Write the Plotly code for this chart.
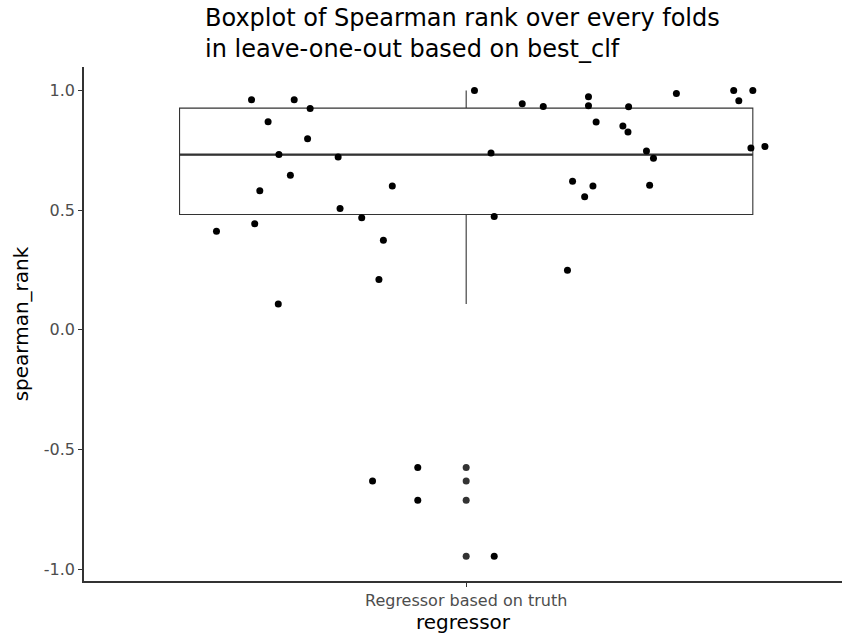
import plotly.graph_objects as go

# Spearman rank per leave-one-out fold
spearman_rank = [
    0.961, 0.961, 0.925, 0.869, 0.798, 0.732, 0.722, 0.646, 0.601, 0.581,
    0.507, 0.468, 0.443, 0.412, 0.374, 0.210, 0.108, 1.000, 0.944, 0.933,
    0.974, 0.936, 0.932, 0.987, 1.000, 1.000, 0.957, 0.868, 0.851, 0.826,
    0.739, 0.747, 0.717, 0.760, 0.766, 0.621, 0.601, 0.556, 0.604, 0.473,
    0.249, -0.632, -0.576, -0.713, -0.947,
]
# horizontal jitter of each fold's point (in category widths)
jitter = [
    -0.337, -0.270, -0.245, -0.311, -0.249, -0.294, -0.201, -0.276, -0.116, -0.324,
    -0.198, -0.164, -0.332, -0.392, -0.130, -0.137, -0.295, 0.013, 0.088, 0.121,
    0.192, 0.192, 0.255, 0.330, 0.420, 0.450, 0.428, 0.204, 0.246, 0.254,
    0.039, 0.283, 0.294, 0.447, 0.469, 0.167, 0.199, 0.186, 0.288, 0.044,
    0.159, -0.147, -0.076, -0.076, 0.044,
]

# box statistics
category = "Regressor based on truth"
q1 = 0.4815
median = 0.732
q3 = 0.926
lower_whisker = 0.108
upper_whisker = 1.000
outliers = [-0.576, -0.632, -0.713, -0.947]

title_lines = [
    "Boxplot of Spearman rank over every folds",
    "in leave-one-out based on best_clf",
]

box_width = 0.9
dark = "#333333"

fig = go.Figure()

fig.add_trace(go.Box(
    x=[0], q1=[q1], median=[median], q3=[q3],
    lowerfence=[lower_whisker], upperfence=[upper_whisker],
    width=box_width, whiskerwidth=0, boxpoints=False,
    fillcolor="white", line=dict(color=dark, width=1.1),
    hoverinfo="skip", showlegend=False,
))

# thicker median bar
fig.add_trace(go.Scatter(
    x=[-box_width / 2, box_width / 2], y=[median, median],
    mode="lines", line=dict(color=dark, width=2.2),
    hoverinfo="skip", showlegend=False,
))

# outliers at the category centre
fig.add_trace(go.Scatter(
    x=[0] * len(outliers), y=outliers, mode="markers",
    marker=dict(color=dark, size=7, line=dict(width=0)),
    showlegend=False,
))

# jittered fold points
fig.add_trace(go.Scatter(
    x=jitter, y=spearman_rank, mode="markers",
    marker=dict(color="black", size=7, line=dict(width=0)),
    showlegend=False,
))

# two-line title, lines left-aligned
fig.add_annotation(
    text="<br>".join(title_lines), xref="paper", yref="paper", x=0.157, y=1.0652,
    xanchor="left", yanchor="middle", align="left", showarrow=False,
    font=dict(family="DejaVu Sans", size=24, color="black"),
)

axis_common = dict(
    showgrid=False, zeroline=False, showline=True, linecolor=dark, linewidth=1.6,
    ticks="outside", ticklen=4, tickcolor=dark, tickwidth=1.2,
    tickfont=dict(family="DejaVu Sans", size=16, color="#4d4d4d"),
    title_font=dict(family="DejaVu Sans", size=20, color="black"),
)

fig.update_layout(
    width=842, height=637,
    margin=dict(l=84, r=0, t=67, b=56),
    paper_bgcolor="white", plot_bgcolor="white",
    font=dict(family="DejaVu Sans"),
    xaxis=dict(
        range=[-0.6, 0.59], tickvals=[0], ticktext=[category],
        title=dict(text="regressor", standoff=6), **axis_common,
    ),
    yaxis=dict(
        range=[-1.05, 1.098], tickvals=[-1, -0.5, 0, 0.5, 1],
        ticktext=["-1.0", "-0.5", "0.0", "0.5", "1.0"],
        title=dict(text="spearman_rank", standoff=10), **axis_common,
    ),
)

fig.write_html("out.html")
